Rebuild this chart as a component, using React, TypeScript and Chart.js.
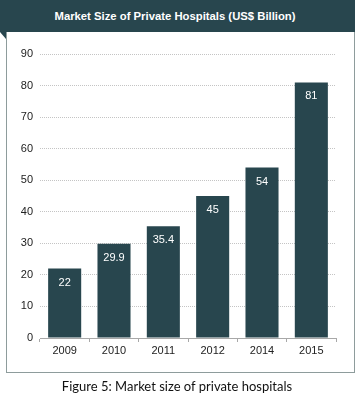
import React, { useEffect, useRef } from "react";
import { Chart, registerables } from "chart.js";

Chart.register(...registerables);

const categories = ["2009", "2010", "2011", "2012", "2014", "2015"];
const values = [22, 29.9, 35.4, 45, 54, 81];
const valueLabels = ["22", "29.9", "35.4", "45", "54", "81"];
const yTicks = [0, 10, 20, 30, 40, 50, 60, 70, 80, 90];
const title = "Market Size of Private Hospitals (US$ Billion)";
const caption = "Figure 5: Market size of private hospitals";

const DARK = "#28464e";

const valueLabelPlugin = {
  id: "valueLabels",
  afterDatasetsDraw(chart: any) {
    const ctx = chart.ctx;
    const meta = chart.getDatasetMeta(0);
    ctx.save();
    ctx.fillStyle = "#ffffff";
    ctx.font = "11px 'Liberation Sans', Arial, sans-serif";
    ctx.textAlign = "center";
    ctx.textBaseline = "middle";
    meta.data.forEach((bar: any, i: number) => {
      ctx.fillText(valueLabels[i], bar.x, bar.y + 14);
    });
    ctx.restore();
  },
};

export default function App() {
  const ref = useRef<HTMLCanvasElement>(null);
  useEffect(() => {
    const chart = new Chart(ref.current!, {
      type: "bar",
      data: {
        labels: categories,
        datasets: [
          {
            data: values,
            backgroundColor: DARK,
            barPercentage: 0.67,
            categoryPercentage: 1,
          },
        ],
      },
      options: {
        animation: false,
        responsive: false,
        devicePixelRatio: 1,
        layout: { padding: { top: 54, right: 23, left: 0, bottom: 0 } },
        plugins: { legend: { display: false }, tooltip: { enabled: false }, title: { display: false } },
        scales: {
          x: {
            offset: true,
            border: { display: true, color: "#a8a8a8", width: 1 },
            grid: {
              display: true,
              drawOnChartArea: false,
              drawTicks: true,
              tickLength: 4,
              color: "#a8a8a8",
            },
            ticks: {
              color: "#222222",
              font: { family: "'Liberation Sans', Arial, sans-serif", size: 11 },
              padding: 2,
            },
            afterFit(scale: any) {
              scale.height = 55;
            },
          },
          y: {
            min: 0,
            max: 90,
            border: { display: false, dash: [1, 1] },
            grid: {
              color: "#c4c4c4",
              drawTicks: false,
              lineWidth: 1,
            },
            ticks: {
              stepSize: 10,
              color: "#222222",
              padding: 7,
              font: { family: "'Liberation Sans', Arial, sans-serif", size: 11 },
              callback: (v: any) => (yTicks.includes(Number(v)) ? String(v) : ""),
            },
            afterFit(scale: any) {
              scale.width = 40;
            },
          },
        },
      },
      plugins: [valueLabelPlugin],
    } as any);
    return () => chart.destroy();
  }, []);

  return (
    <div style={{ position: "fixed", left: 0, top: 0, width: 359, height: 393, background: "#ffffff", overflow: "hidden" }}>
      <div
        style={{
          position: "absolute",
          left: 6,
          top: 0,
          width: 349,
          height: 373,
          boxSizing: "border-box",
          border: "1px solid #8e9c9c",
        }}
      />
      <div
        style={{
          position: "absolute",
          left: 0,
          top: 0,
          width: 355,
          height: 32,
          background: DARK,
          color: "#ffffff",
          fontFamily: "'Liberation Sans', Arial, sans-serif",
          fontWeight: "bold",
          fontSize: 11.3,
          lineHeight: "32px",
          textAlign: "center",
          whiteSpace: "nowrap",
        }}
      >
        <span style={{ position: "absolute", left: 0, width: 350, textAlign: "center" }}>{title}</span>
      </div>
      <div
        style={{
          position: "absolute",
          left: 0,
          top: 32,
          width: 0,
          height: 0,
          borderTop: `7px solid ${DARK}`,
          borderLeft: "6px solid transparent",
        }}
      />
      <canvas ref={ref} width={359} height={393} style={{ position: "absolute", left: 0, top: 0, width: 359, height: 393 }} />
      <div
        style={{
          position: "absolute",
          left: 0,
          top: 378,
          width: 354,
          textAlign: "center",
          fontFamily: "Lato, 'Open Sans', sans-serif",
          fontSize: 13,
          lineHeight: "16px",
          color: "#111111",
          whiteSpace: "nowrap",
        }}
      >
        {caption}
      </div>
    </div>
  );
}
